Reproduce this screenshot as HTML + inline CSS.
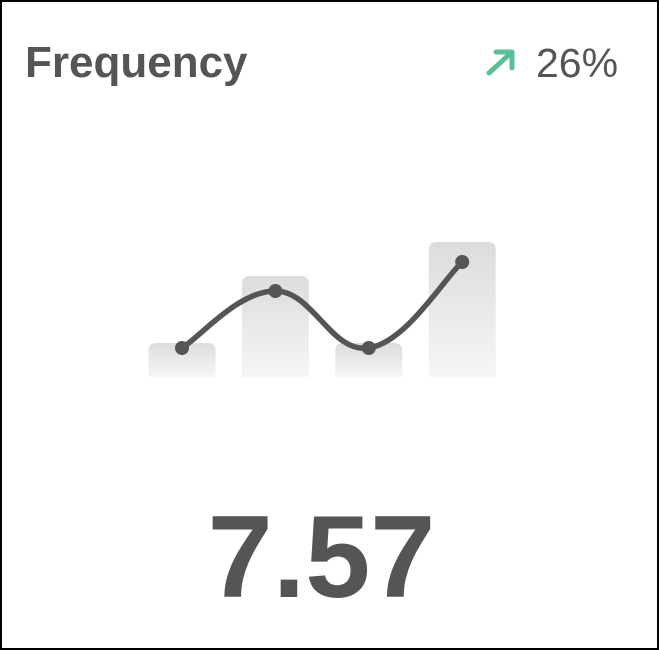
<!DOCTYPE html>
<html><head><meta charset="utf-8"><style>
html,body{margin:0;padding:0;background:#fff;}
body{width:659px;height:650px;position:relative;overflow:hidden;font-family:"Liberation Sans",sans-serif;}
.frame{position:absolute;left:0;top:0;width:655px;height:646px;border:2px solid #000;}
.title{position:absolute;left:25px;top:38px;font-size:44px;font-weight:bold;color:#555;}
.pct{position:absolute;left:536px;top:40px;font-size:41px;color:#555;}
.big{position:absolute;width:659px;text-align:center;top:498px;font-size:117px;font-weight:bold;color:#555;line-height:1;}
</style></head><body>
<div class="frame"></div>
<div class="title">Frequency</div>
<svg style="position:absolute;left:484px;top:48px" width="34" height="30">
<path d="M5 25 L28 4 M12 4 L28 4 L28 20" stroke="#5cbf95" stroke-width="5" fill="none" stroke-linecap="round" stroke-linejoin="round"/></svg>
<div class="pct">26%</div>
<svg id="chart" style="position:absolute;left:0;top:0" width="659" height="450">
<defs><linearGradient id="g" x1="0" y1="0" x2="0" y2="1"><stop offset="0" stop-color="#dcdcdd"/><stop offset="1" stop-color="#f6f6f7"/></linearGradient></defs>
</svg>
<div class="big" style="left:-8px">7.57</div>
<script>
const categories=["1","2","3","4"];
const barValues=[34,101,34,135];
const lineValues=[29,86,29,115];
const svg=document.getElementById('chart');
const NS="http://www.w3.org/2000/svg";
const base=377;
const x=i=>182+i*93.4;
const y=v=>base-v;
categories.forEach((c,i)=>{
 const r=document.createElementNS(NS,'path');
 const x0=x(i)-33.5,w=67,t=y(barValues[i]),rr=8;
 r.setAttribute('d',`M${x0} ${base} L${x0} ${t+rr} Q${x0} ${t} ${x0+rr} ${t} L${x0+w-rr} ${t} Q${x0+w} ${t} ${x0+w} ${t+rr} L${x0+w} ${base} Z`);
 r.setAttribute('fill','url(#g)');
 
 
 svg.appendChild(r);
});
const pts=lineValues.map((v,i)=>[x(i),y(v)]);
let d=`M${pts[0][0]} ${pts[0][1]}`;
for(let i=0;i<pts.length-1;i++){
 const p0=pts[Math.max(0,i-1)],p1=pts[i],p2=pts[i+1],p3=pts[Math.min(pts.length-1,i+2)];
 const k=0.2;
 d+=` C${p1[0]+(p2[0]-p0[0])*k} ${p1[1]+(p2[1]-p0[1])*k} ${p2[0]-(p3[0]-p1[0])*k} ${p2[1]-(p3[1]-p1[1])*k} ${p2[0]} ${p2[1]}`;
}
const line=document.createElementNS(NS,'path');
line.setAttribute('d',d);line.setAttribute('fill','none');line.setAttribute('stroke','#555');line.setAttribute('stroke-width','5.5');


svg.appendChild(line);
pts.forEach((p,i)=>{
 const c=document.createElementNS(NS,'circle');
 c.setAttribute('cx',p[0]);c.setAttribute('cy',p[1]);c.setAttribute('r','7');c.setAttribute('fill','#555');
 
 
 svg.appendChild(c);
});
</script>
</body></html>
